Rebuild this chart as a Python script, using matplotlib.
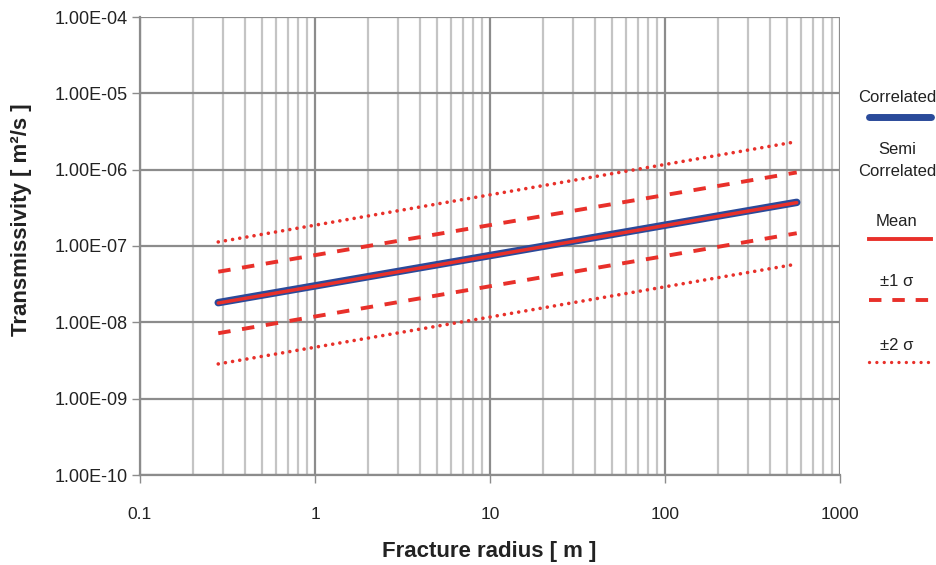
import numpy as np
import matplotlib
matplotlib.use("Agg")
from matplotlib import pyplot as plt
from matplotlib.lines import Line2D
from matplotlib.ticker import FixedLocator, LogLocator, NullFormatter

# Fracture radius end points [m]
radius = [0.28, 566]

# Transmissivity at the two end points [m2/s]
correlated = [1.81e-8, 3.73e-7]
semi_mean = [1.79e-8, 3.70e-7]
plus_1s = [4.6e-8, 9.2e-7]
minus_1s = [7.2e-9, 1.47e-7]
plus_2s = [1.13e-7, 2.33e-6]
minus_2s = [2.85e-9, 5.8e-8]

yticks = [1e-10, 1e-9, 1e-8, 1e-7, 1e-6, 1e-5, 1e-4]
ytick_labels = ["1.00E-10", "1.00E-09", "1.00E-08", "1.00E-07",
                "1.00E-06", "1.00E-05", "1.00E-04"]
xticks = [0.1, 1, 10, 100, 1000]
xtick_labels = ["0.1", "1", "10", "100", "1000"]

blue = "#2A4A9A"
red = "#E8302A"
font = ["Liberation Sans", "DejaVu Sans"]

W, H = 937, 565
fig = plt.figure(figsize=(9.37, 5.65), dpi=100)
ax = fig.add_axes([140/W, 90/H, 700/W, 458/H])

ax.set_xscale("log")
ax.set_yscale("log")
ax.set_xlim(0.1, 1000)
ax.set_ylim(1e-10, 1e-4)

ax.plot(radius, correlated, color=blue, lw=5.4, solid_capstyle="round", zorder=3)
ax.plot(radius, semi_mean, color=red, lw=2.5, solid_capstyle="round", zorder=4)
ax.plot(radius, plus_1s, color=red, lw=2.8, dashes=(3.2, 3.0), zorder=3)
ax.plot(radius, minus_1s, color=red, lw=2.8, dashes=(3.2, 3.0), zorder=3)
ax.plot(radius, plus_2s, color=red, lw=2.6, dashes=(0.01, 2.0),
        dash_capstyle="round", zorder=3)
ax.plot(radius, minus_2s, color=red, lw=2.6, dashes=(0.01, 2.0),
        dash_capstyle="round", zorder=3)

# axes, ticks, grid
ax.yaxis.set_major_locator(FixedLocator(yticks))
ax.yaxis.set_minor_locator(FixedLocator([]))
ax.set_yticklabels(ytick_labels, family=font, fontsize=13, color="#222222")
ax.xaxis.set_major_locator(FixedLocator(xticks))
ax.xaxis.set_minor_locator(LogLocator(base=10, subs=np.arange(2, 10)))
ax.xaxis.set_minor_formatter(NullFormatter())
ax.set_xticklabels(xtick_labels, family=font, fontsize=12.5, color="#222222")

ax.grid(True, which="major", axis="both", color="#8c8c8c", lw=1.6, zorder=0)
ax.grid(True, which="minor", axis="x", color="#c4c4c4", lw=1.6, zorder=0)
ax.set_axisbelow(True)

for s in ["top", "right"]:
    ax.spines[s].set_visible(False)
for s in ["left", "bottom"]:
    ax.spines[s].set_color("#8c8c8c")
    ax.spines[s].set_linewidth(1.6)
ax.tick_params(axis="both", which="major", length=6, width=1, color="#8c8c8c")
ax.tick_params(axis="y", which="major", pad=3)
ax.tick_params(axis="x", which="major", pad=17)
ax.tick_params(axis="x", which="minor", length=0)

fig.text(489/W, 1 - 551/H, "Fracture radius [ m ]", ha="center", va="center",
         family=font, fontsize=16, fontweight="bold", color="#222222")
fig.text(22/W, 1 - 220/H, "Transmissivity [ m²/s ]", ha="center", va="center",
         rotation=90, family=font, fontsize=16, fontweight="bold", color="#222222")

# legend on the right
def ftext(x, y, s):
    fig.text(x / W, 1 - y / H, s, ha="center", va="center", family=font,
             fontsize=12, color="#222222")

def fline(y, **kw):
    fig.add_artist(Line2D([869 / W, 931 / W], [1 - y / H, 1 - y / H], **kw))

ftext(897, 98, "Correlated")
fline(117, color=blue, lw=5, solid_capstyle="round")
ftext(897, 150, "Semi")
ftext(897, 172, "Correlated")
ftext(897, 221, "Mean")
fline(239, color=red, lw=2.8)
ftext(897, 281, "±1 σ")
fline(300, color=red, lw=2.8, dashes=(3.2, 2.8))
ftext(897, 346, "±2 σ")
fline(362, color=red, lw=2.4, dashes=(0.01, 2.2), dash_capstyle="round")

fig.savefig("out.png", dpi=100)
